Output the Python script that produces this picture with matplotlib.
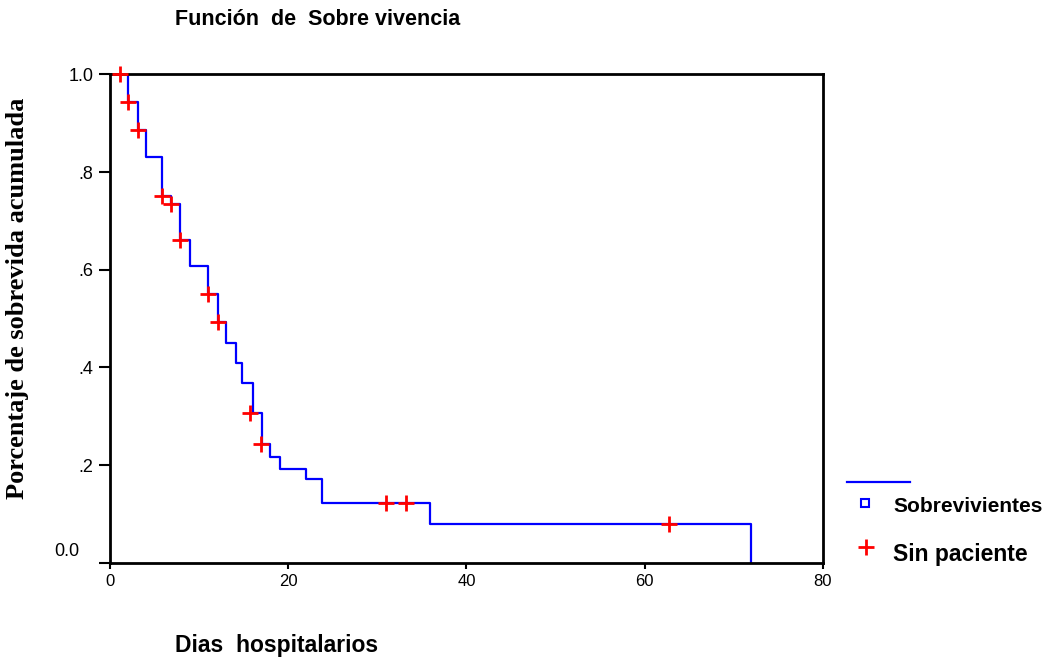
import matplotlib
matplotlib.use('Agg')
import matplotlib.pyplot as plt
import matplotlib.transforms as mtransforms
from matplotlib.lines import Line2D

# curva de Kaplan-Meier: dias y porcentaje acumulado tras cada caida
tiempos = [0, 2.0, 3.1, 4.0, 5.8, 6.9, 7.9, 9.0, 11.0, 12.1, 13.0, 14.2, 14.8,
           16.0, 17.1, 18.0, 19.1, 22.0, 23.8, 35.9, 71.9]
supervivencia = [1.0, 0.943, 0.886, 0.832, 0.751, 0.734, 0.661, 0.608, 0.550,
                 0.493, 0.451, 0.410, 0.369, 0.307, 0.243, 0.217, 0.193, 0.171,
                 0.123, 0.079, 0.0]

# casos censurados (sin paciente)
cens_t = [1.1, 2.0, 3.1, 5.8, 6.9, 7.9, 11.0, 12.1, 15.7, 17.0, 31.0, 33.2, 62.7]
cens_s = [1.0, 0.943, 0.886, 0.751, 0.734, 0.661, 0.550, 0.493, 0.307, 0.243,
          0.123, 0.123, 0.079]

xticks = [0, 20, 40, 60, 80]
yticks = [0.0, 0.2, 0.4, 0.6, 0.8, 1.0]
ytick_labels = ['0.0', '.2', '.4', '.6', '.8', '1.0']

plt.rcParams['font.family'] = ['Liberation Sans', 'DejaVu Sans']

fig = plt.figure(figsize=(10.47, 6.59), dpi=100)
ax = fig.add_axes([0.105, 0.146, 0.681, 0.741])

ax.step(tiempos, supervivencia, where='post', color='#0000ff', lw=1.6, zorder=2)
ax.plot(cens_t, cens_s, ls='none', marker='+', ms=12, mew=2, color='#ff0000',
        clip_on=False, zorder=3)

ax.set_xlim(0, 80)
ax.set_ylim(0, 1.0)
ax.set_xticks(xticks)
ax.set_yticks(yticks)
ax.set_yticklabels(ytick_labels)
ax.tick_params(axis='x', length=4, width=1.5, labelsize=12, pad=4)
ax.tick_params(axis='y', length=8, width=1.5, labelsize=13, pad=4)
for s in ax.spines.values():
    s.set_linewidth(2)

# la etiqueta 0.0 va arriba y a la izquierda de su marca
lab0 = ax.get_yticklabels()[0]
lab0.set_transform(lab0.get_transform() +
                   mtransforms.ScaledTranslation(-0.14, 0.135, fig.dpi_scale_trans))

fig.text(0.167, 0.970, u'Funci\u00f3n  de  Sobre vivencia', fontsize=15.5,
         fontweight='bold', ha='left', va='center')
fig.text(0.167, 0.021, 'Dias  hospitalarios', fontsize=16.5, fontweight='bold',
         ha='left', va='center')
fig.text(0.017, 0.548, 'Porcentaje de sobrevida acumulada', rotation=90,
         fontsize=19, fontweight='bold', family='Liberation Serif',
         ha='center', va='center')

# leyenda
fig.add_artist(Line2D([0.809, 0.869], [0.2686, 0.2686], color='#0000ff', lw=1.6,
                      transform=fig.transFigure))
fig.add_artist(Line2D([0.826], [0.237], ls='none', marker='s', ms=6, mfc='white',
                      mec='#0000ff', mew=1.5, transform=fig.transFigure))
fig.add_artist(Line2D([0.827], [0.170], ls='none', marker='+', ms=12, mew=2,
                      color='#ff0000', transform=fig.transFigure))
fig.text(0.853, 0.231, 'Sobrevivientes', fontsize=15, fontweight='bold',
         ha='left', va='center')
fig.text(0.853, 0.158, 'Sin paciente', fontsize=16.5, fontweight='bold',
         ha='left', va='center')

fig.savefig('out.png', dpi=100)
